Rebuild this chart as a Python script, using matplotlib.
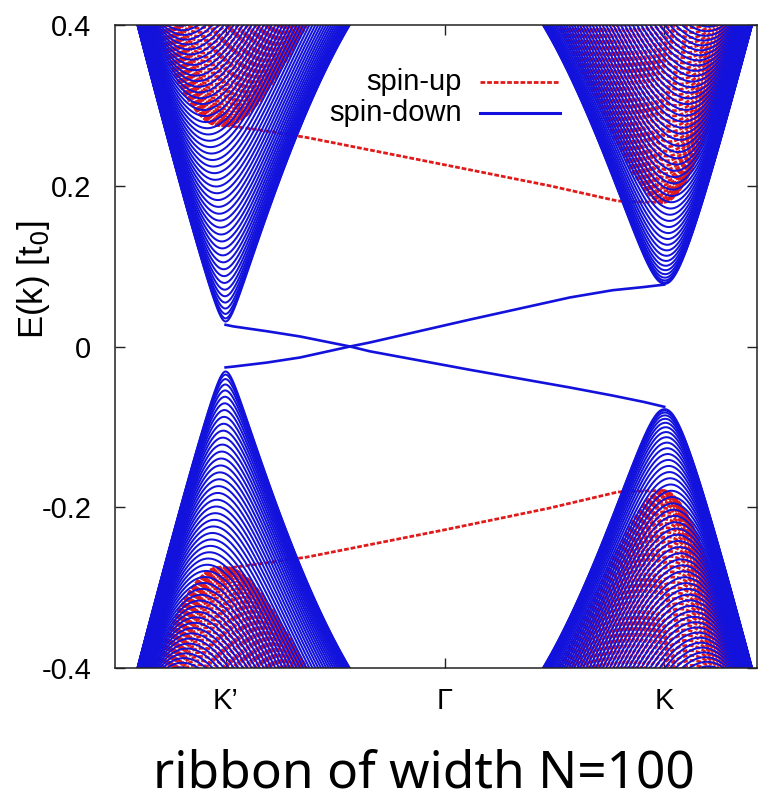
import numpy as np
import matplotlib
matplotlib.use("Agg")
import matplotlib.pyplot as plt
from matplotlib.collections import LineCollection
from matplotlib.lines import Line2D

# ---- high-symmetry points along the ribbon Brillouin zone ----
tick_k = [-2 * np.pi / 3, 0.0, 2 * np.pi / 3]
tick_labels = ["K\u2019", "\u0393", "K"]
ytick_vals = [-0.4, -0.2, 0.0, 0.2, 0.4]
ytick_labels = ["-0.4", "-0.2", "0", "0.2", "0.4"]

# ---- bulk subband parameters (energies in t0) ----
hopping = 0.50          # effective nearest-neighbour hopping
n_modes = 170           # number of transverse modes across the ribbon
gap_up = [0.275, 0.179]     # half-gap of spin-up bands at K', K
gap_down = [0.0297, 0.0775]  # half-gap of spin-down bands at K', K

# ---- edge-state branches (k, E) ----
edge_down_a_k = [-2.094, -2.02, -1.70, -1.384, -0.906, -0.716, 0.239, 1.193, 1.60, 1.90, 2.094]
edge_down_a_E = [0.027, 0.025, 0.019, 0.0125, 0.0, -0.006, -0.029, -0.051, -0.061, -0.069, -0.075]
edge_down_b_k = [-2.094, -2.02, -1.70, -1.384, -0.906, -0.716, 0.239, 1.193, 1.60, 1.90, 2.094]
edge_down_b_E = [-0.026, -0.025, -0.020, -0.0137, 0.0, 0.005, 0.0335, 0.061, 0.070, 0.074, 0.077]
edge_up_a_k = [-2.094, -1.80, -1.317, 0.0, 1.0, 1.651, 2.094]
edge_up_a_E = [0.275, 0.270, 0.260, 0.226, 0.200, 0.181, 0.179]
edge_up_b_k = [-2.094, -1.80, -1.317, 0.0, 1.0, 1.651, 2.094]
edge_up_b_E = [-0.276, -0.271, -0.262, -0.228, -0.201, -0.181, -0.179]

BLUE = "#1212dc"
RED = "#e01a1a"


def subbands(gaps, k):
    """Conduction and valence subbands of a zigzag ribbon with valley-dependent mass."""
    c = np.cos(k / 2)
    q = np.pi * np.arange(1, n_modes + 1) / (n_modes + 1)
    q = q[q > np.pi - 1.35]
    g = np.clip(np.sin(k) / np.sin(2 * np.pi / 3), -1, 1)
    mass = 0.5 * (gaps[0] + gaps[1]) + 0.5 * (gaps[1] - gaps[0]) * g
    segs = []
    for qn in q:
        eps2 = hopping ** 2 * np.clip(1 + 4 * c ** 2 + 4 * c * np.cos(qn), 0, None)
        e = np.sqrt(mass ** 2 + eps2)
        segs.append(np.column_stack([k, e]))
        segs.append(np.column_stack([k, -e]))
    return segs


fig = plt.figure(figsize=(7.69, 8.02), dpi=100)
ax = fig.add_axes([115 / 769, 1 - 668 / 802, 642 / 769, 643 / 802])

kgrid = np.linspace(-np.pi, np.pi, 1600)

lc_up = LineCollection(subbands(gap_up, kgrid), colors=RED, linewidths=2.0,
                       linestyles=[(0, (1.7, 0.7))])
ax.add_collection(lc_up)
ax.plot(edge_up_a_k, edge_up_a_E, color=RED, lw=2.0, dashes=(1.7, 0.7))
ax.plot(edge_up_b_k, edge_up_b_E, color=RED, lw=2.0, dashes=(1.7, 0.7))

lc_dn = LineCollection(subbands(gap_down, kgrid), colors=BLUE, linewidths=1.45)
ax.add_collection(lc_dn)
ax.plot(edge_down_a_k, edge_down_a_E, color=BLUE, lw=1.9)
ax.plot(edge_down_b_k, edge_down_b_E, color=BLUE, lw=1.9)

ax.set_xlim(-3.15, 2.98)
ax.set_ylim(-0.4, 0.4)

font = ["Liberation Sans", "DejaVu Sans"]
ax.set_xticks(tick_k)
ax.set_xticklabels(tick_labels, family=font, fontsize=21)
ax.set_yticks(ytick_vals)
ax.set_yticklabels(ytick_labels, family=font, fontsize=21)
ax.tick_params(axis="both", direction="in", length=7, width=1.0,
               top=True, right=True, color="#222222")
ax.tick_params(axis="y", pad=17)
ax.tick_params(axis="x", pad=14)
for s in ax.spines.values():
    s.set_linewidth(1.1)
    s.set_color("#222222")

# legend drawn gnuplot-style: right-aligned labels followed by line samples
ax.text(0.540, 0.911, "spin-up", transform=ax.transAxes, ha="right", va="center",
        family=font, fontsize=21)
ax.text(0.540, 0.863, "spin-down", transform=ax.transAxes, ha="right", va="center",
        family=font, fontsize=21)
ax.add_line(Line2D([0.569, 0.693], [0.911, 0.911], transform=ax.transAxes,
                   color=RED, lw=2.0, dashes=(1.7, 0.7)))
ax.add_line(Line2D([0.569, 0.693], [0.863, 0.863], transform=ax.transAxes,
                   color=BLUE, lw=2.2))

fig.text(33 / 769, 1 - 280 / 802, "E(k) [t$_0$]", rotation=90, ha="center", va="center",
         family=font, fontsize=25)

fig.text(424 / 769, 1 - 788 / 802, "ribbon of width N=100", ha="center", va="baseline",
         family=["Noto Sans", "Liberation Sans"], fontstretch="condensed",
         fontweight="normal", fontsize=37)

fig.savefig("out.png", dpi=100)
